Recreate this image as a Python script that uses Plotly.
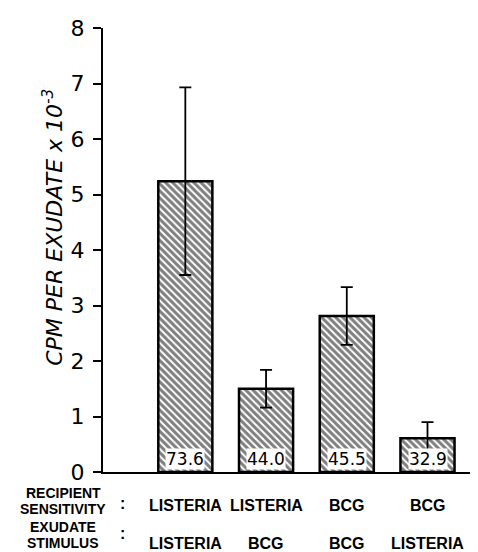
import plotly.graph_objects as go

groups = ["G1", "G2", "G3", "G4"]
recipient = ["LISTERIA", "LISTERIA", "BCG", "BCG"]
stimulus = ["LISTERIA", "BCG", "BCG", "LISTERIA"]
cpm = [5.24, 1.50, 2.81, 0.61]
err = [1.69, 0.34, 0.52, 0.29]
pct = ["73.6", "44.0", "45.5", "32.9"]
yticks = [0, 1, 2, 3, 4, 5, 6, 7, 8]

FONT = "Liberation Sans"

fig = go.Figure()
fig.add_trace(go.Bar(
    x=groups, y=cpm, width=0.67,
    marker=dict(color="white", line=dict(color="black", width=2.5),
                pattern=dict(shape="\\", fgcolor="black", bgcolor="white",
                             size=5, solidity=0.6)),
    error_y=dict(type="data", array=err, symmetric=True, color="black",
                 thickness=1.8, width=6),
    showlegend=False,
))

ann = []
for g, p in zip(groups, pct):
    ann.append(dict(x=g, y=0, xref="x", yref="y", text=p, showarrow=False,
                    yanchor="bottom", yshift=2, bgcolor="white", borderpad=0,
                    font=dict(family="DejaVu Sans", size=17, color="black")))
for g, r, s in zip(groups, recipient, stimulus):
    ann.append(dict(x=g, y=0, xref="x", yref="paper", text="<b>%s</b>" % r, showarrow=False,
                    yanchor="middle", yshift=-33,
                    font=dict(family=FONT, size=16, color="black")))
    ann.append(dict(x=g, y=0, xref="x", yref="paper", text="<b>%s</b>" % s, showarrow=False,
                    yanchor="middle", yshift=-71,
                    font=dict(family=FONT, size=16, color="black")))
left = [("RECIPIENT", -21), ("SENSITIVITY", -37), ("EXUDATE", -55), ("STIMULUS", -71)]
for t, dy in left:
    ann.append(dict(x=0, y=0, xref="paper", yref="paper", text="<b>%s</b>" % t, showarrow=False,
                    xanchor="center", yanchor="middle", xshift=-40, yshift=dy,
                    font=dict(family=FONT, size=14, color="black")))
for dy in (-31, -61):
    ann.append(dict(x=0, y=0, xref="paper", yref="paper", text="<b>:</b>", showarrow=False,
                    xanchor="center", yanchor="middle", xshift=19, yshift=dy,
                    font=dict(family=FONT, size=16, color="black")))
ann.append(dict(x=0, y=0.55, xref="paper", yref="paper",
                text="<i>CPM PER EXUDATE x 10<sup>-3</sup></i>", showarrow=False,
                textangle=-90, xanchor="center", yanchor="middle", xshift=-50,
                font=dict(family="DejaVu Sans", size=22, color="black")))

fig.update_layout(
    width=478, height=552,
    margin=dict(l=95, r=2, t=20, b=88),
    paper_bgcolor="white", plot_bgcolor="white",
    annotations=ann,
    xaxis=dict(range=[-1.02, 3.7], showticklabels=False, ticks="",
               showline=True, linecolor="black", linewidth=1.5,
               showgrid=False, zeroline=False),
    yaxis=dict(range=[0, 8], tickvals=yticks, ticks="outside", ticklen=8,
               tickwidth=2, tickcolor="black", showline=True, linecolor="black",
               linewidth=2, showgrid=False, zeroline=False,
               ticklabelstandoff=4,
               tickfont=dict(family="DejaVu Sans", size=22, color="black")),
)

fig.write_html("out.html")
